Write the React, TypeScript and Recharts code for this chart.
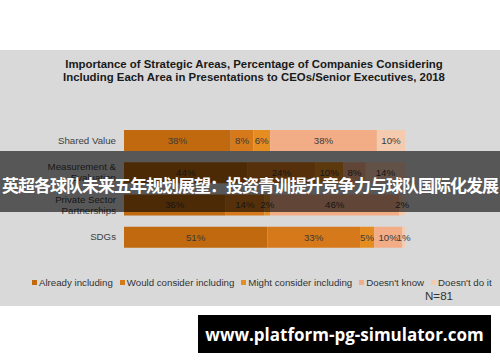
import React from "react";
import { BarChart, Bar, XAxis, YAxis, Legend, LabelList } from "recharts";

const categories = ["Shared Value", "Measurement &\nEvaluation", "Private Sector\nPartnerships", "SDGs"];
const alreadyIncluding = [38, 44, 36, 51];
const wouldConsider = [8, 24, 14, 33];
const mightConsider = [6, 10, 2, 5];
const doesntKnow = [38, 8, 46, 10];
const doesntDo = [10, 14, 2, 1];

const seriesNames = [
  "Already including",
  "Would consider including",
  "Might consider including",
  "Doesn't know",
  "Doesn't do it",
];
const seriesKeys = ["already", "would", "might", "dontKnow", "dontDo"];
const seriesColors = ["#c0690f", "#d6791a", "#e68d22", "#f2ad87", "#f5cbb0"];

const data = categories.map((name, i) => ({
  name,
  already: alreadyIncluding[i],
  would: wouldConsider[i],
  might: mightConsider[i],
  dontKnow: doesntKnow[i],
  dontDo: doesntDo[i],
}));

const FONT = '"Liberation Sans", Arial, sans-serif';

// multi-line category labels on the left
const CategoryTick = (props: any) => {
  const { x, y, payload } = props;
  const lines = String(payload.value).split("\n");
  return (
    <text x={x} y={y} textAnchor="end" fontSize={9.7} fill="#404040" fontFamily={FONT}>
      {lines.map((line, i) => (
        <tspan key={i} x={x} dy={i === 0 ? -(lines.length - 1) * 5.5 + 3.4 : 11}>
          {line}
        </tspan>
      ))}
    </text>
  );
};

const LegendContent = (props: any) => {
  // keep the series order, not the alphabetical one
  const items = [...(props.payload || [])].sort(
    (a: any, b: any) => seriesNames.indexOf(a.value) - seriesNames.indexOf(b.value)
  );
  return (
    <div style={{ display: "flex", alignItems: "center", paddingLeft: 32, fontSize: 9.7, color: "#333", fontFamily: FONT }}>
      {items.map((p: any, i: number) => (
        <div key={i} style={{ display: "flex", alignItems: "center", marginRight: 7 }}>
          <span style={{ width: 5, height: 5, background: p.color, marginRight: 2, display: "inline-block" }} />
          <span>{p.value}</span>
        </div>
      ))}
    </div>
  );
};

export default function App() {
  return (
    <div style={{ position: "absolute", left: 0, top: 0, width: 500, height: 362, background: "#fff", overflow: "hidden" }}>
      <div style={{ position: "absolute", left: 0, top: 50, width: 500, height: 256, background: "#d9d9d9" }} />
      <div
        style={{
          position: "absolute",
          left: 4,
          top: 58,
          width: 500,
          textAlign: "center",
          fontFamily: FONT,
          fontWeight: "bold",
          fontSize: 11.4,
          lineHeight: "12.5px",
          color: "#1a1a1a",
        }}
      >
        Importance of Strategic Areas, Percentage of Companies Considering
        <br />
        Including Each Area in Presentations to CEOs/Senior Executives, 2018
      </div>
      <div style={{ position: "absolute", left: 0, top: 0 }}>
        <BarChart
          width={500}
          height={362}
          data={data}
          layout="vertical"
          margin={{ top: 124, right: 95, bottom: 109, left: 0 }}
          barSize={21}
        >
          <XAxis type="number" domain={[0, 100]} hide />
          <YAxis
            type="category"
            dataKey="name"
            width={124}
            axisLine={false}
            tickLine={false}
            tick={<CategoryTick />}
            interval={0}
          />
          <Legend
            layout="horizontal"
            verticalAlign="middle"
            align="center"
            content={<LegendContent />}
            wrapperStyle={{ position: "absolute", left: 0, top: 277, width: 500 }}
          />
          {seriesKeys.map((key, i) => (
            <Bar key={key} dataKey={key} name={seriesNames[i]} stackId="a" fill={seriesColors[i]} isAnimationActive={false}>
              <LabelList
                dataKey={key}
                position="center"
                formatter={(v: any) => `${v}%`}
                fill="#3a3a3a"
                fontSize={9.7}
                fontFamily={FONT}
              />
            </Bar>
          ))}
        </BarChart>
      </div>
      <div style={{ position: "absolute", left: 425, top: 289, fontFamily: FONT, fontSize: 11.6, color: "#333" }}>N=81</div>
      <div
        style={{
          position: "absolute",
          left: 0,
          top: 151,
          width: 500,
          height: 61,
          background: "rgba(0,0,0,0.6)",
          display: "flex",
          alignItems: "center",
          justifyContent: "center",
          paddingTop: 5,
          boxSizing: "border-box",
          color: "#fff",
          fontFamily: '"Noto Sans CJK SC", sans-serif',
          fontWeight: "bold",
          fontSize: 17,
          letterSpacing: -1,
          whiteSpace: "nowrap",
        }}
      >
        英超各球队未来五年规划展望：投资青训提升竞争力与球队国际化发展
      </div>
      <div
        style={{
          position: "absolute",
          left: 198,
          top: 315,
          width: 293,
          height: 38,
          background: "#000",
          color: "#fff",
          display: "flex",
          alignItems: "center",
          justifyContent: "center",
          fontFamily: '"Open Sans", sans-serif',
          fontWeight: "bold",
          fontSize: 17,
        }}
      >
        www.platform-pg-simulator.com
      </div>
    </div>
  );
}
